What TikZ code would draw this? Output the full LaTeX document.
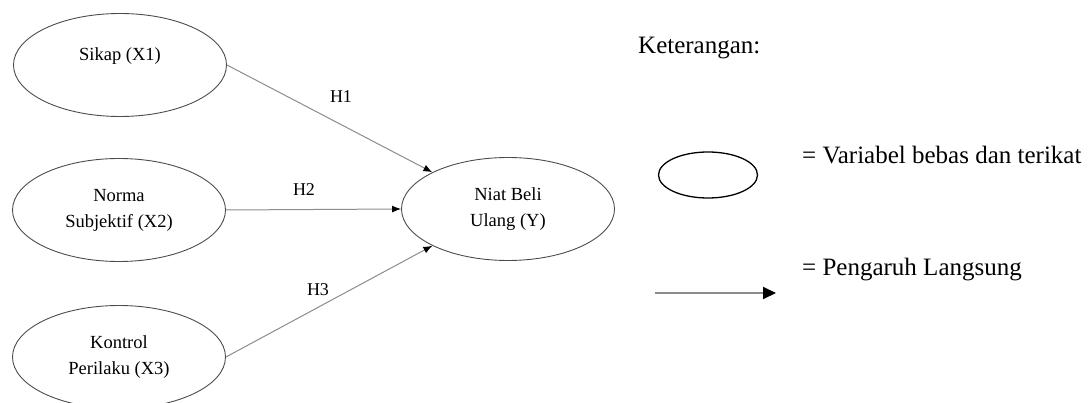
\documentclass[tikz,border=0pt]{standalone}
\usepackage{fontspec}
\setmainfont{Liberation Serif}
\usetikzlibrary{arrows.meta,shapes.geometric}

\begin{document}
\begin{tikzpicture}[x=1pt,y=-1pt,
        var/.style={draw=black!70,line width=0.9pt,ellipse,inner sep=0pt,
            minimum width=213pt,minimum height=103pt,align=center,
            font=\fontsize{18.5}{26}\selectfont},
        hyp/.style={draw=black!45,line width=1pt,
            -{Latex[length=9pt,width=7pt,color=black]}},
        hlabel/.style={font=\fontsize{18}{22}\selectfont},
        legendtext/.style={anchor=west,inner sep=0pt,font=\fontsize{25}{30}\selectfont}]
            \useasboundingbox (0,0) rectangle (1088,403);

            % variabel
            \node[var] (x1) at (120,65) {Sikap (X1)\\[-4pt]\mbox{}};
            \node[var] (x2) at (119,210) {Norma\\Subjektif (X2)};
            \node[var] (x3) at (119,357) {Kontrol\\Perilaku (X3)};
            \node[var] (y) at (508,209) {Niat Beli\\Ulang (Y)};

            % hipotesis
            \draw[hyp] (x1.east) -- (y.north west);
            \draw[hyp] (x2.east) -- (y.west);
            \draw[hyp] (x3.east) -- (y.south west);

            \node[hlabel] (h1) at (341,97) {H1};
            \node[hlabel] (h2) at (304,190) {H2};
            \node[hlabel] (h3) at (318,290) {H3};

            % keterangan
            \node[legendtext] (ket) at (638,48) {Keterangan:};
            \node[draw=black,line width=1.3pt,ellipse,inner sep=0pt,
                minimum width=99pt,minimum height=46pt] (lgvar) at (708,175) {};
            \node[legendtext] (lgvartext) at (802,155) {= Variabel bebas dan terikat};
            \coordinate (arrA) at (655,293);
            \coordinate (arrB) at (776,293);
            \draw[draw=black!45,line width=2pt,
                -{Triangle[length=13pt,width=12pt,color=black]}] (arrA) -- (arrB);
            \node[legendtext] (lgarrtext) at (802,270) {= Pengaruh Langsung};
\end{tikzpicture}
\end{document}
